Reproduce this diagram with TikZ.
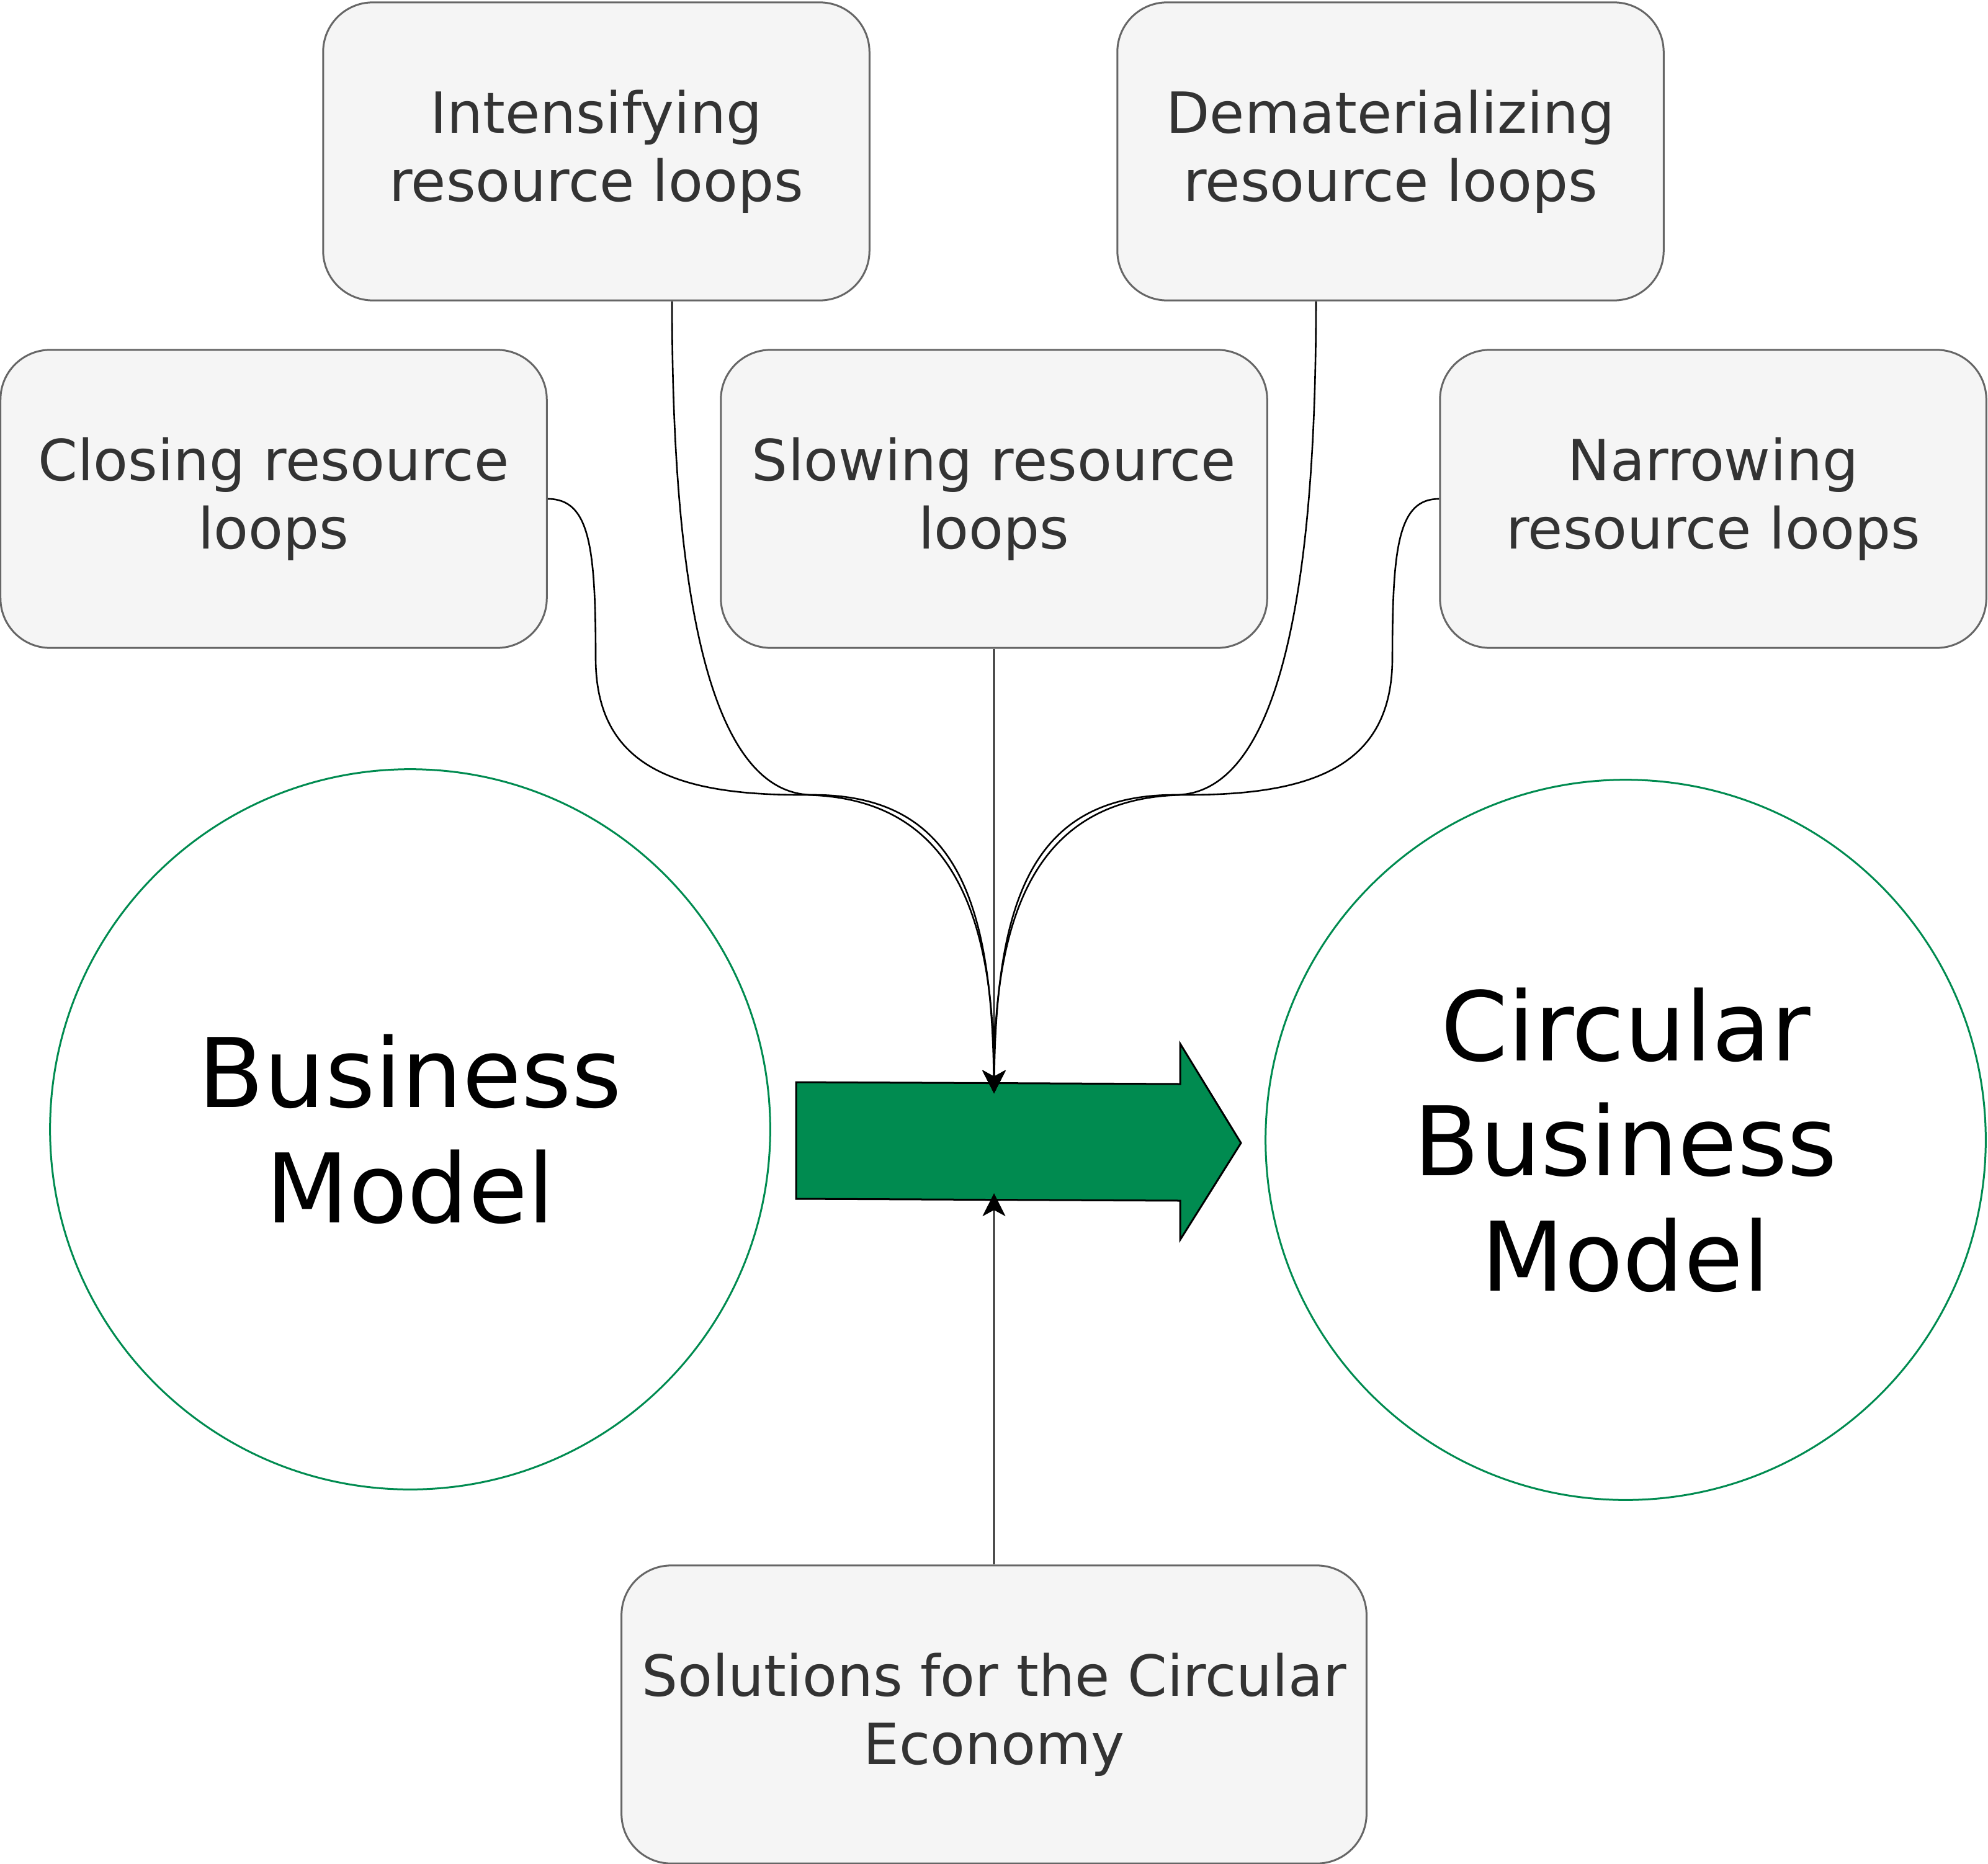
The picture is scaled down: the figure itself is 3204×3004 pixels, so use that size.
\documentclass[tikz,border=0pt]{standalone}
\usepackage{fontspec}
\setmainfont{DejaVu Sans}
\usetikzlibrary{arrows.meta}
\definecolor{boxFill}{HTML}{F5F5F5}
\definecolor{boxLine}{HTML}{666666}
\definecolor{boxText}{HTML}{333333}
\definecolor{cbmGreen}{RGB}{0,139,80}

\begin{document}
\begin{tikzpicture}[x = 0.01cm, y = -0.01cm]
\tikzstyle{loopStyle}=[shape = rectangle, rounded corners = 0.8cm, draw = boxLine, line width = 0.03cm, fill = boxFill, text = boxText, minimum width = 8.8cm, minimum height = 4.8cm, align = center, font = \fontsize{26pt}{31.2pt}\selectfont]
\tikzstyle{modelStyle}=[shape = circle, draw = cbmGreen, line width = 0.03cm, minimum size = 11.6cm, align = center, font = \fontsize{44pt}{52.8pt}\selectfont]
\tikzstyle{EdgeStyle}=[line width = 0.026cm, -{Stealth[length = 0.37cm, width = 0.37cm, inset = 0.1cm]}]
\useasboundingbox (0,0) rectangle (3204,3004);
% strategies
\node[loopStyle] (intens) at (961,244) {Intensifying\\resource loops};
\node[loopStyle] (demat) at (2241,244) {Dematerializing\\resource loops};
\node[loopStyle] (closing) at (441,804) {Closing resource\\loops};
\node[loopStyle] (slowing) at (1602,804) {Slowing resource\\loops};
\node[loopStyle] (narrow) at (2761,804) {Narrowing\\resource loops};
\node[loopStyle, minimum width = 12cm] (solutions) at (1602,2763) {Solutions for the Circular\\Economy};
% models
\node[modelStyle] (bm) at (661,1820) {Business\\Model};
\node[modelStyle] (cbm) at (2620,1837) {Circular\\Business\\Model};
% transition arrow
\draw[fill = cbmGreen, line width = 0.03cm] (1283,1744) -- (1902,1747) -- (1902,1682) -- (2000,1842) -- (1902,1998) -- (1902,1935) -- (1283,1932) -- cycle;
\coordinate (inTop) at (1602,1762);
\coordinate (inBottom) at (1602,1923);
% connectors
\draw[EdgeStyle] (closing.east) .. controls (950,804) and (960,880) .. (960,1060) .. controls (960,1230) and (1080,1281) .. (1290,1281) .. controls (1520,1281) and (1602,1450) .. (inTop);
\draw[EdgeStyle] ([xshift = 1.22cm]intens.south) .. controls (1083,1050) and (1170,1281) .. (1310,1281) .. controls (1540,1281) and (1598,1450) .. (inTop);
\draw[EdgeStyle] (slowing.south) -- (inTop);
\draw[EdgeStyle] ([xshift = -1.2cm]demat.south) .. controls (2121,1050) and (2034,1281) .. (1894,1281) .. controls (1664,1281) and (1606,1450) .. (inTop);
\draw[EdgeStyle] (narrow.west) .. controls (2254,804) and (2244,880) .. (2244,1060) .. controls (2244,1230) and (2124,1281) .. (1914,1281) .. controls (1684,1281) and (1602,1450) .. (inTop);
\draw[EdgeStyle] (solutions.north) -- (inBottom);
\end{tikzpicture}
\end{document}
